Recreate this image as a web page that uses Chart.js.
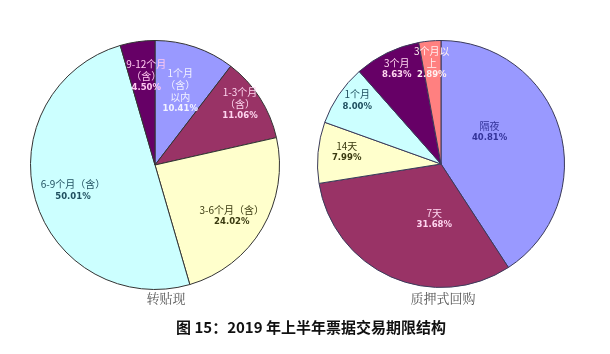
<!DOCTYPE html>
<html><head><meta charset="utf-8">
<script src="https://cdn.jsdelivr.net/npm/chart.js@4"></script>
<style>
body{margin:0;width:610px;height:354px;background:#fff;position:relative;overflow:hidden;font-family:"Noto Sans CJK SC",sans-serif;}
canvas{position:absolute;}
.sub{position:absolute;font-size:13px;color:#555;transform:translateX(-50%);white-space:nowrap;font-family:"Noto Serif CJK SC","Noto Sans CJK SC",serif;}
.title{position:absolute;left:311px;top:316px;transform:translateX(-50%);font-size:15px;font-weight:bold;color:#111;white-space:nowrap;}
</style></head><body>
<canvas id="c1" width="260" height="260" style="left:25px;top:35px"></canvas>
<canvas id="c2" width="258" height="258" style="left:312px;top:35px"></canvas>
<div class="sub" style="left:166px;top:288px">转贴现</div>
<div class="sub" style="left:443px;top:288px">质押式回购</div>
<div class="title">图 15：2019 年上半年票据交易期限结构</div>
<script>
// Data
const leftCategories = ["1个月\n（含）\n以内", "1-3个月\n（含）", "3-6个月（含）", "6-9个月（含）", "9-12个月\n（含）"];
const leftValues = [10.41, 11.06, 24.02, 50.01, 4.50];
const rightCategories = ["隔夜", "7天", "14天", "1个月", "3个月", "3个月以\n上"];
const rightValues = [40.81, 31.68, 7.99, 8.00, 8.63, 2.89];

// Styles
const leftColors = ["#9999FF", "#993366", "#FFFFCC", "#CCFFFF", "#660066"];
const rightColors = ["#9999FF", "#993366", "#FFFFCC", "#CCFFFF", "#660066", "#FF8080"];
const leftTextColors = ["#f2f2ff", "#ffd6f0", "#3a3a10", "#1f4f5f", "#ffc8f0"];
const rightTextColors = ["#333399", "#ffd6f0", "#3a3a10", "#1f4f5f", "#ffd6f0", "#fff0f0"];
const leftLabelRadius = [0.63, 0.84, 0.74, 0.69, 0.72];
const leftLabelShift = [0, -3, 3, -1, 2.5];
const rightLabelRadius = [0.47, 0.45, 0.77, 0.85, 0.85, 0.82];
const rightLabelShift = [-16.6, -17, 2, 3, 1, 0];

const labelPlugin = {
  id: 'sliceLabels',
  afterDatasetsDraw(chart, args, opts) {
    const ctx = chart.ctx;
    const meta = chart.getDatasetMeta(0);
    const cats = chart.data.labels;
    const vals = chart.data.datasets[0].data;
    meta.data.forEach((el, i) => {
      const mid = (el.startAngle + el.endAngle) / 2 + opts.shift[i] * Math.PI / 180;
      const r = el.outerRadius * opts.radius[i];
      const x = el.x + r * Math.cos(mid);
      const y = el.y + r * Math.sin(mid);
      const lines = cats[i].split('\n');
      const all = lines.map(t => ({t, bold: false})).concat([{t: vals[i].toFixed(2) + '%', bold: true}]);
      const lh = 12;
      const total = all.length * lh;
      ctx.save();
      ctx.fillStyle = opts.colors[i];
      ctx.textAlign = 'center';
      ctx.textBaseline = 'middle';
      all.forEach((ln, k) => {
        ctx.font = ln.bold ? 'bold 8.5px "DejaVu Sans", sans-serif' : '10px "Noto Sans CJK SC", sans-serif';
        ctx.fillText(ln.t, x, y - total / 2 + lh / 2 + k * lh);
      });
      ctx.restore();
    });
  }
};

function makePie(id, cats, vals, colors, tcolors, rad, shift, border) {
  return new Chart(document.getElementById(id), {
    type: 'pie',
    data: {
      labels: cats,
      datasets: [{data: vals, backgroundColor: colors, borderColor: border, borderWidth: 1}]
    },
    options: {
      responsive: false,
      animation: false,
      layout: {padding: 5},
      plugins: {
        legend: {display: false},
        tooltip: {enabled: false},
        sliceLabels: {colors: tcolors, radius: rad, shift: shift}
      }
    },
    plugins: [labelPlugin]
  });
}
makePie('c1', leftCategories, leftValues, leftColors, leftTextColors, leftLabelRadius, leftLabelShift, '#333333');
makePie('c2', rightCategories, rightValues, rightColors, rightTextColors, rightLabelRadius, rightLabelShift, '#3a3a5a');
</script>
</body></html>
